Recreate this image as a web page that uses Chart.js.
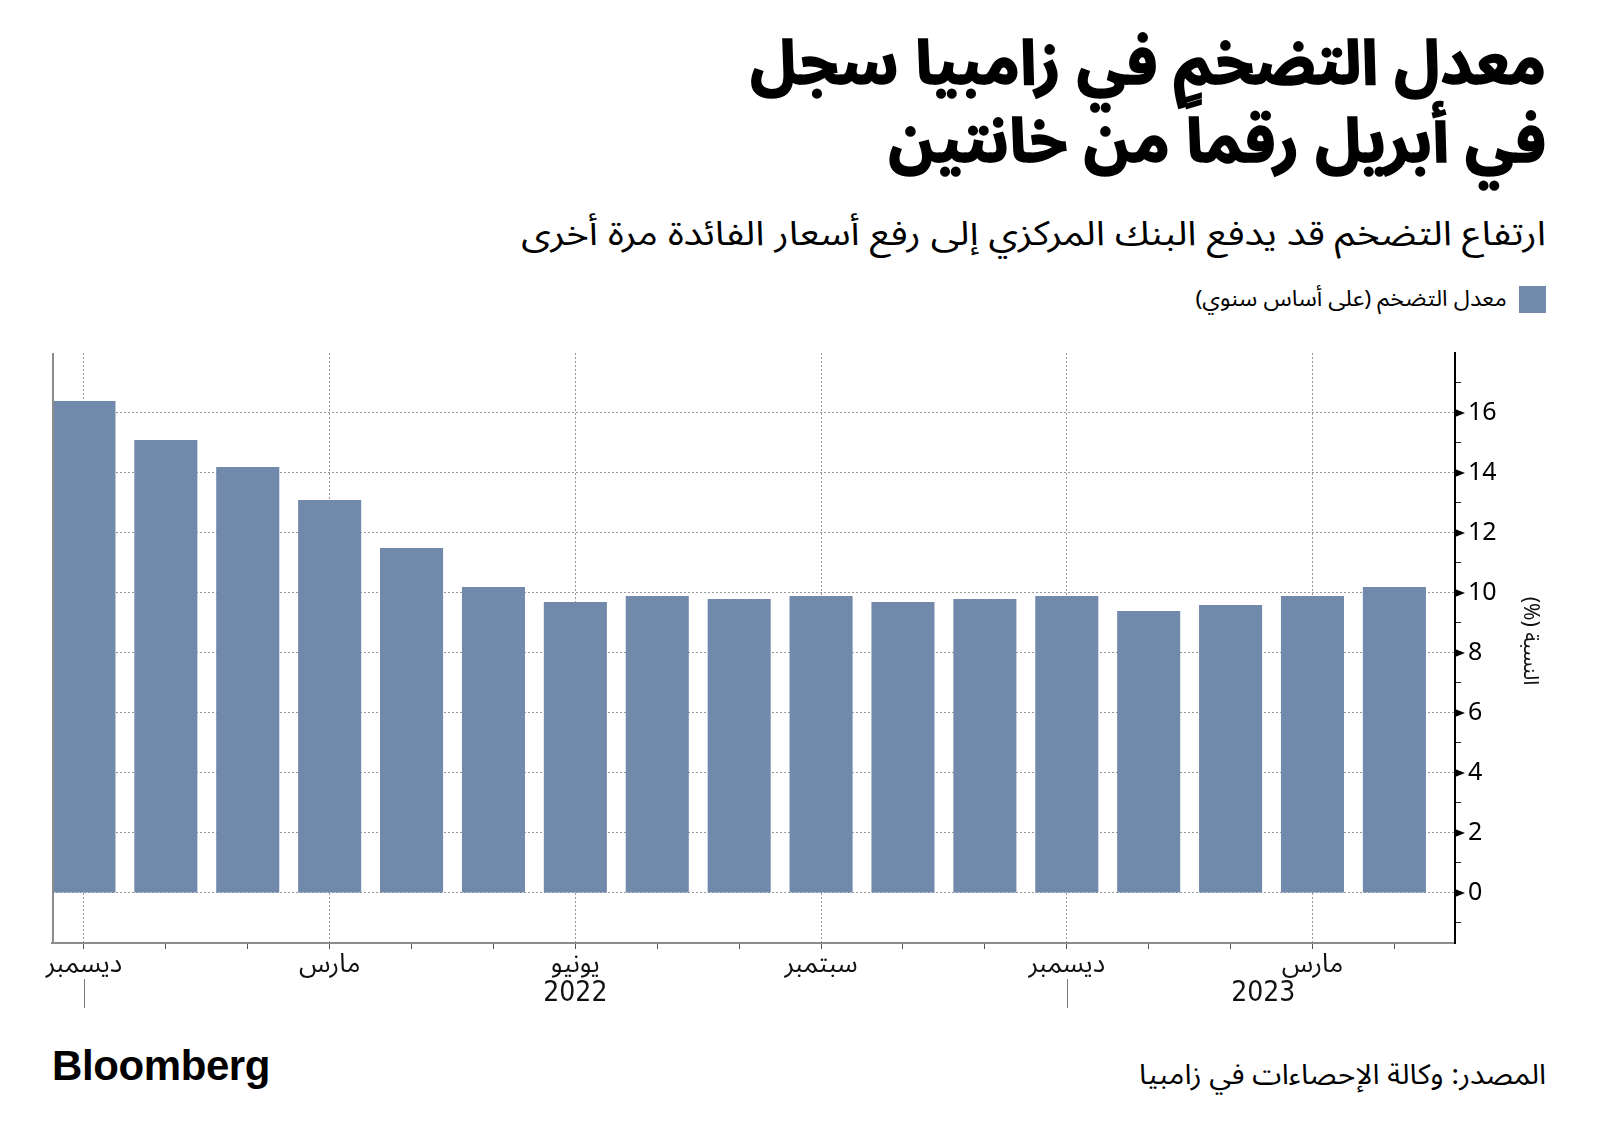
<!DOCTYPE html>
<html lang="ar">
<head>
<meta charset="utf-8">
<script src="https://cdn.jsdelivr.net/npm/chart.js@4.4.1/dist/chart.umd.min.js"></script>
<style>
  body { margin: 0; width: 1600px; height: 1146px; background: #fff; position: relative; overflow: hidden;
         font-family: "Noto Sans Arabic", "DejaVu Sans", sans-serif; color: #000; }
  .rtl { direction: rtl; position: absolute; right: 54px; text-align: right; white-space: nowrap; transform-origin: right center; }
  #title { top: 26px; font-size: 62px; font-weight: bold; line-height: 78px; -webkit-text-stroke: 1.5px #000; }
  #subtitle { top: 198px; font-size: 34px; transform: scaleX(1.14); }
  #legend { top: 276px; font-size: 22px; display: flex; align-items: center; }
  #legend .sw { width: 27px; height: 27px; background: #7189ab; margin-left: 12px; }
  #legend .txt { display: inline-block; transform: scaleX(1.06); transform-origin: right center; }
  #source { top: 1046px; font-size: 28px; transform: scaleX(1.06); }
  #brand { position: absolute; left: 52px; top: 1042px; font: bold 42px "Liberation Sans", Arial, sans-serif; letter-spacing: -0.4px; }
  #chart { position: absolute; left: 0; top: 320px; }
</style>
</head>
<body>
<div id="title" class="rtl">معدل التضخم في زامبيا سجل<br>في أبريل رقماً من خانتين</div>
<div id="subtitle" class="rtl">ارتفاع التضخم قد يدفع البنك المركزي إلى رفع أسعار الفائدة مرة أخرى</div>
<div id="legend" class="rtl"><span class="sw"></span><span class="txt">معدل التضخم (على أساس سنوي)</span></div>
<canvas id="chart" width="1600" height="700"></canvas>
<div id="brand">Bloomberg</div>
<div id="source" class="rtl">المصدر: وكالة الإحصاءات في زامبيا</div>

<script>
// Dec 2021 .. Apr 2023
const months = ['ديسمبر', 'يناير', 'فبراير', 'مارس', 'أبريل', 'مايو', 'يونيو', 'يوليو', 'أغسطس',
                'سبتمبر', 'أكتوبر', 'نوفمبر', 'ديسمبر', 'يناير', 'فبراير', 'مارس', 'أبريل'];
const inflation = [16.4, 15.1, 14.2, 13.1, 11.5, 10.2, 9.7, 9.9, 9.8, 9.9, 9.7, 9.8, 9.9, 9.4, 9.6, 9.9, 10.2];
const labelledMonths = [0, 3, 6, 9, 12, 15];
const years = ['2022', '2023'];
const yMajorTicks = [0, 2, 4, 6, 8, 10, 12, 14, 16];
const yMinorTicks = [-1, 1, 3, 5, 7, 9, 11, 13, 15, 17];
const yTitle = 'النسبة (%)';

const barColor = '#7189ab';
const gridColor = '#9a9a9a';
const arabicFont = '"Noto Sans Arabic", "DejaVu Sans", sans-serif';

const decorations = {
  id: 'decorations',
  afterDraw(chart) {
    const { ctx, chartArea, scales: { x, y } } = chart;
    ctx.save();

    // left frame line
    ctx.strokeStyle = '#8c8c8c';
    ctx.lineWidth = 2;
    ctx.beginPath();
    ctx.moveTo(chartArea.left + 1, chartArea.top);
    ctx.lineTo(chartArea.left + 1, chartArea.bottom);
    ctx.stroke();

    // triangle markers on major y ticks
    ctx.fillStyle = '#000';
    yMajorTicks.forEach(v => {
      const py = y.getPixelForValue(v);
      ctx.beginPath();
      ctx.moveTo(y.left, py - 4);
      ctx.lineTo(y.left + 10, py);
      ctx.lineTo(y.left, py + 4);
      ctx.closePath();
      ctx.fill();
    });

    // year separators under december
    ctx.strokeStyle = '#777';
    ctx.lineWidth = 1;
    [0, 12].forEach(i => {
      const px = Math.round(x.getPixelForValue(i)) + 0.5;
      ctx.beginPath();
      ctx.moveTo(px, x.top + 36);
      ctx.lineTo(px, x.top + 65);
      ctx.stroke();
    });

    // year labels
    ctx.font = '28px "Liberation Sans Narrow", "DejaVu Sans Condensed", sans-serif';
    ctx.textAlign = 'center';
    ctx.textBaseline = 'middle';
    ctx.fillStyle = '#111';
    ctx.fillText(years[0], x.getPixelForValue(6), x.top + 51);
    ctx.fillText(years[1], x.getPixelForValue(14.4), x.top + 51);

    // y axis title, rotated clockwise
    ctx.translate(1527, 321);
    ctx.rotate(Math.PI / 2);
    ctx.font = '21px ' + arabicFont;
    ctx.direction = 'rtl';
    ctx.fillText(yTitle, 0, 0);

    ctx.restore();
  }
};

new Chart(document.getElementById('chart').getContext('2d'), {
  type: 'bar',
  data: {
    datasets: [{
      label: 'معدل التضخم (على أساس سنوي)',
      data: inflation.map((v, i) => ({ x: i, y: v })),
      backgroundColor: barColor,
      borderWidth: 0,
      barPercentage: 0.77,
      categoryPercentage: 1
    }]
  },
  options: {
    responsive: false,
    animation: false,
    layout: { padding: { top: 33, left: 52, right: 0, bottom: 0 } },
    plugins: { legend: { display: false }, tooltip: { enabled: false } },
    scales: {
      x: {
        type: 'linear',
        min: -0.39,
        max: 16.74,
        offset: false,
        afterFit: s => { s.height = 77; },
        afterBuildTicks: s => { s.ticks = months.map((m, i) => ({ value: i })); },
        grid: {
          offset: false,
          color: c => labelledMonths.includes(c.tick && c.tick.value) ? gridColor : 'rgba(0,0,0,0)',
          lineWidth: 1,
          tickColor: '#555',
          tickLength: 6,
          tickBorderDash: []
        },
        border: { display: true, color: '#8c8c8c', width: 2, dash: [2, 2] },
        ticks: {
          autoSkip: false,
          maxRotation: 0,
          padding: 3,
          color: '#111',
          font: { size: 26, family: arabicFont },
          callback: v => labelledMonths.includes(v) ? months[v] : ''
        }
      },
      y: {
        position: 'right',
        min: -1.667,
        max: 18,
        afterFit: s => { s.width = 145; },
        afterBuildTicks: s => {
          s.ticks = yMajorTicks.concat(yMinorTicks).sort((a, b) => a - b).map(v => ({ value: v }));
        },
        grid: {
          color: c => yMajorTicks.includes(c.tick && c.tick.value) ? gridColor : 'rgba(0,0,0,0)',
          lineWidth: 1,
          tickColor: c => yMajorTicks.includes(c.tick && c.tick.value) ? 'rgba(0,0,0,0)' : '#222',
          tickLength: 6,
          tickBorderDash: []
        },
        border: { display: true, color: '#000', width: 2, dash: [2, 2] },
        ticks: {
          autoSkip: false,
          padding: 7,
          color: '#000',
          font: { size: 25, family: '"Noto Sans", "Open Sans", sans-serif' },
          callback: v => yMajorTicks.includes(v) ? String(v) : ''
        }
      }
    }
  },
  plugins: [decorations]
});
</script>
</body>
</html>
